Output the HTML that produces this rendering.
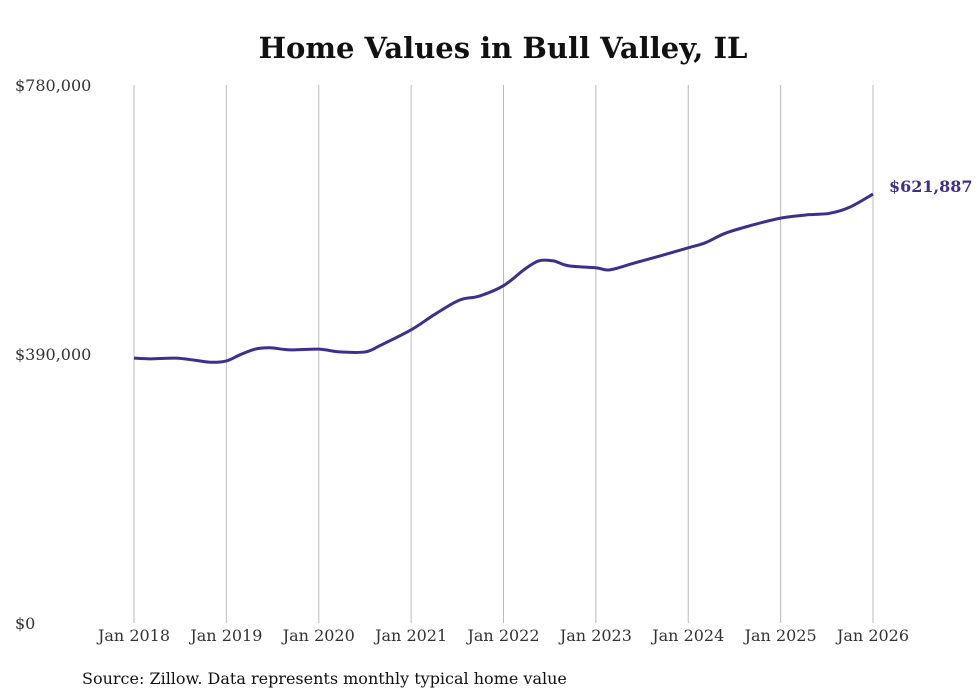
<!DOCTYPE html>
<html><head><meta charset="utf-8"><style>
body{margin:0;background:#fff;}
svg{display:block;font-family:"DejaVu Serif","Liberation Serif",serif;}
</style></head><body>
<svg id="chart" width="980" height="699">
<text x="503" y="58" text-anchor="middle" font-size="29" font-weight="bold" fill="#111">Home Values in Bull Valley, IL</text>
<g id="grid"></g><g id="yaxis"></g><g id="xaxis"></g><g id="series"></g>
<text x="82" y="684" font-size="16" fill="#111">Source: Zillow. Data represents monthly typical home value</text>
</svg>
<script>
const dates=[2018.0,2018.17,2018.45,2018.66,2018.83,2019.0,2019.15,2019.31,2019.47,2019.69,2020.0,2020.23,2020.5,2020.66,2021.0,2021.25,2021.52,2021.74,2022.0,2022.22,2022.38,2022.54,2022.7,2023.0,2023.15,2023.42,2023.69,2024.0,2024.18,2024.4,2024.67,2025.0,2025.31,2025.53,2025.75,2026.0];
const values=[384000,383000,384000,381000,378000,380000,389000,397000,399000,396000,397000,393000,393000,402000,425000,447000,468000,474000,489000,512000,525000,525000,518000,515000,512000,522000,532000,544000,551000,565000,576000,587000,592000,594000,603000,621887];
const yTicks=[0,390000,780000];
const yTickLabels=["$0","$390,000","$780,000"];
const xTicks=[2018,2019,2020,2021,2022,2023,2024,2025,2026];
const xTickLabels=["Jan 2018","Jan 2019","Jan 2020","Jan 2021","Jan 2022","Jan 2023","Jan 2024","Jan 2025","Jan 2026"];
const lastLabel="$621,887";
const NS="http://www.w3.org/2000/svg";
const X=d=>134+(d-2018)*(873-134)/8;
const Y=v=>623-v*(623-85)/780000;
function mk(t,a,p){const e=document.createElementNS(NS,t);for(const k in a)e.setAttribute(k,a[k]);p.appendChild(e);return e;}
const grid=document.getElementById('grid'),ya=document.getElementById('yaxis'),xa=document.getElementById('xaxis'),se=document.getElementById('series');
xTicks.forEach((t,i)=>{
 const l=mk('line',{x1:X(t),x2:X(t),y1:85,y2:623,stroke:'#bbb','stroke-width':1},grid);
 
 
 const tx=mk('text',{x:X(t),y:641,'text-anchor':'middle','font-size':16,fill:'#333'},xa);
 tx.textContent=xTickLabels[i];
 
 
});
yTicks.forEach((t,i)=>{
 const tx=mk('text',{x:15,y:Y(t)+6,'font-size':16,fill:'#333'},ya);
 tx.textContent=yTickLabels[i];
 
 
});
const pts=dates.map((d,i)=>[X(d),Y(values[i])]);
let p='M'+pts[0][0]+','+pts[0][1];
for(let i=0;i<pts.length-1;i++){
 const p0=pts[i-1]||pts[i],p1=pts[i],p2=pts[i+1],p3=pts[i+2]||p2;
 const c1=[p1[0]+(p2[0]-p0[0])/6,p1[1]+(p2[1]-p0[1])/6],c2=[p2[0]-(p3[0]-p1[0])/6,p2[1]-(p3[1]-p1[1])/6];
 p+=` C${c1[0]},${c1[1]} ${c2[0]},${c2[1]} ${p2[0]},${p2[1]}`;
}
const path=mk('path',{d:p,fill:'none',stroke:'#3d2f8f','stroke-width':3,'stroke-linejoin':'round'},se);


const last=pts[pts.length-1];
const lb=mk('text',{x:last[0]+16,y:last[1]-2,'font-size':16,'font-weight':'bold',fill:'#3d2f8f'},se);
lb.textContent=lastLabel;


</script>
</body></html>
